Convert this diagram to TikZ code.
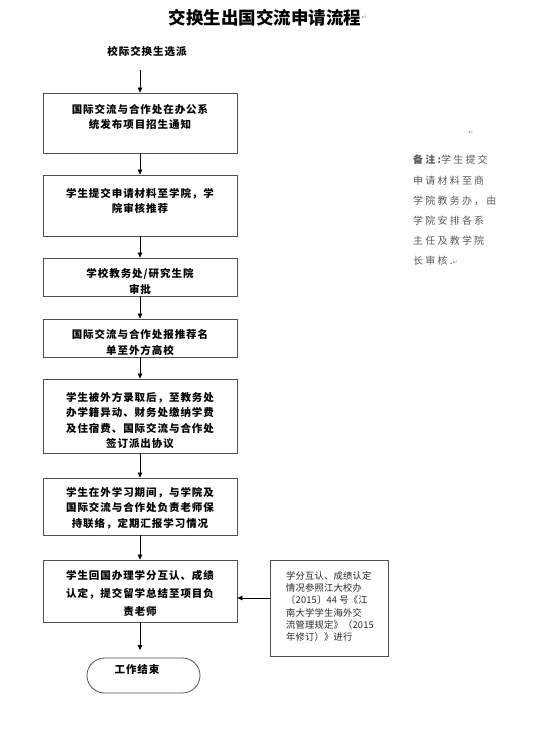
\documentclass[tikz,border=0pt]{standalone}
\usepackage{fontspec}
\usetikzlibrary{arrows.meta}
\newfontfamily\cjk[LetterSpace=9]{Noto Sans CJK SC}
\newfontfamily\cjknote[LetterSpace=2]{Noto Sans CJK SC}
\newfontfamily\cjkrem[LetterSpace=22]{Noto Sans CJK SC}
\newfontfamily\cjktitle{Noto Sans CJK SC}
\newfontfamily\dejavu{DejaVu Sans}
\definecolor{edge}{HTML}{505050}
\definecolor{remgray}{HTML}{5A5A5A}
\tikzset{
  box/.style={draw=edge, line width=0.8pt, minimum width=194pt, inner sep=0pt},
  btext/.style={font=\cjk\bfseries\fontsize{10.5}{15.5}\selectfont, align=center, inner sep=0pt},
  arr/.style={-{Triangle[length=5pt,width=4.5pt]}, line width=0.7pt, black},
  marker/.style={font=\dejavu\fontsize{6}{6}\selectfont, text=black!45, inner sep=0pt}
}
\begin{document}
\begin{tikzpicture}[x=1pt,y=-1pt]
\useasboundingbox (0,0) rectangle (555,733);
% title
\node[font=\cjktitle\bfseries\fontsize{17.5}{20}\selectfont, inner sep=0pt] (title) at (265,18) {交换生出国交流申请流程};
\node[marker, anchor=west] (tmark) at (title.east) {↵};
% start
\node[btext] (start) at (147,52) {校际交换生选派};
\coordinate (s0) at (140,70);
% boxes
\node[box, minimum height=60pt] (b1) at (140,123) {};
\node[btext] (t1) at (140,117) {国际交流与合作处在办公系\\统发布项目招生通知};
\node[box, minimum height=61pt] (b2) at (140,205.5) {};
\node[btext] (t2) at (140,201) {学生提交申请材料至学院，学\\院审核推荐};
\node[box, minimum height=38pt] (b3) at (140,277) {};
\node[btext] (t3) at (140,281.5) {学校教务处/研究生院\\审批};
\node[box, minimum height=38pt] (b4) at (140,338) {};
\node[btext] (t4) at (140,342.5) {国际交流与合作处报推荐名\\单至外方高校};
\node[box, minimum height=74pt] (b5) at (140,416) {};
\node[btext] (t5) at (140,420.5) {学生被外方录取后，至教务处\\办学籍异动、财务处缴纳学费\\及住宿费、国际交流与合作处\\签订派出协议};
\node[box, minimum height=57pt] (b6) at (140,506.5) {};
\node[btext] (t6) at (140,508) {学生在外学习期间，与学院及\\国际交流与合作处负责老师保\\持联络，定期汇报学习情况};
\node[box, minimum height=62pt] (b7) at (140,591) {};
\node[btext, font=\cjk\bfseries\fontsize{10.5}{18}\selectfont] (t7) at (140,593) {学生回国办理学分互认、成绩\\认定，提交留学总结至项目负\\责老师};
% terminal
\node[draw=edge, line width=0.8pt, minimum width=113pt, minimum height=35pt, rounded corners=17.5pt, inner sep=0pt] (term) at (143.5,675.5) {};
\node[btext] (tt) at (137,669) {工作结束};
\coordinate (e0) at (140,650);
% note box
\node[draw=edge, line width=0.8pt, minimum width=118pt, minimum height=96pt, inner sep=0pt] (note) at (329,608) {};
\node[font=\cjknote\fontsize{9.3}{12.3}\selectfont, align=left, anchor=west, inner sep=0pt, text=black!85] (nt) at (286,606.5) {学分互认、成绩认定\\情况参照江大校办\\〔2015〕44 号《江\\南大学学生海外交\\流管理规定》（2015\\年修订）》进行};
\coordinate (na) at ([yshift=10pt]note.west);
% remark
\node[font=\cjkrem\fontsize{10}{20.2}\selectfont, align=left, anchor=west, inner sep=0pt, text=remgray] (rem) at (413,210.5) {{\bfseries 备注:}学生提交\\申请材料至商\\学院教务办，由\\学院安排各系\\主任及教学院\\长审核.{\dejavu\fontsize{6}{6}\selectfont\color{black!45}↵}};
\node[marker] (pmark) at (471,133) {↵};
% connectors
\draw[arr] (s0) -- (b1.north);
\draw[arr] (b1.south) -- (b2.north);
\draw[arr] (b2.south) -- (b3.north);
\draw[arr] (b3.south) -- (b4.north);
\draw[arr] (b4.south) -- (b5.north);
\draw[arr] (b5.south) -- (b6.north);
\draw[arr] (b6.south) -- (b7.north);
\draw[arr] (b7.south) -- (e0);
\draw[arr] (na) -- (na -| b7.east);
\end{tikzpicture}
\end{document}
